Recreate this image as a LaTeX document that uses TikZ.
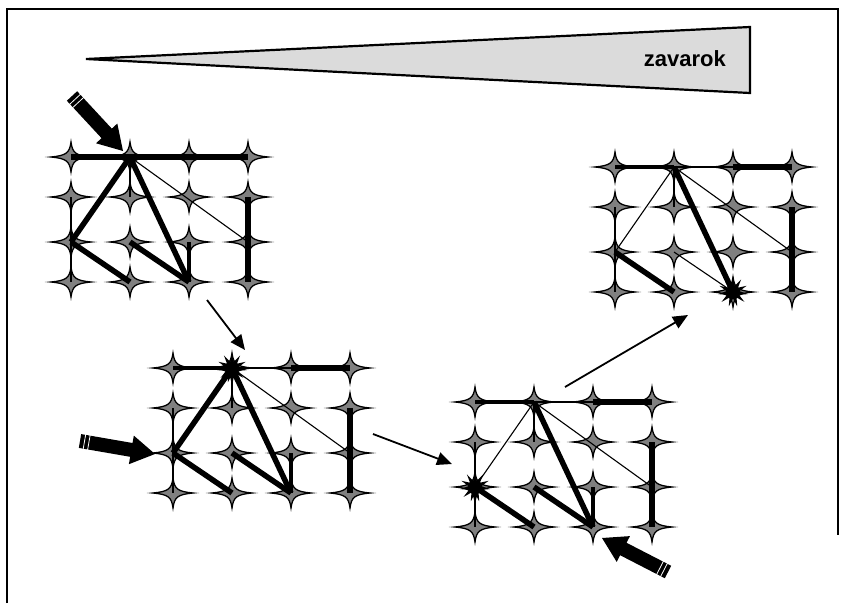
\documentclass[tikz,border=0pt]{standalone}
\usepackage{fontspec}
\setmainfont{Liberation Sans}
\usetikzlibrary{calc,arrows.meta,shapes.geometric}

\definecolor{stargray}{gray}{0.5}
\definecolor{wedgegray}{gray}{0.86}

\tikzset{
  fourstar/.pic={
    \filldraw[fill=stargray, draw=black, line width=1.3pt]
      (20,0) .. controls (4.6,1.5) and (1.5,4) .. (0,15)
             .. controls (-1.5,4) and (-4.6,1.5) .. (-20,0)
             .. controls (-4.6,-1.5) and (-1.5,-4) .. (0,-15)
             .. controls (1.5,-4) and (4.6,-1.5) .. cycle;
  }
}

% a 4x4 lattice of stars: prefix, left x, top y
\newcommand{\makegrid}[3]{%
  \foreach \c in {0,1,2,3}{%
    \foreach \r/\dy in {0/0,1/40,2/85,3/125}{%
      \coordinate (#1-\c-\r) at ({#2+59*\c},{#3+\dy});
      \pic at (#1-\c-\r) {fourstar};
    }%
  }%
}

% links shared by every lattice
\newcommand{\commonedges}[1]{%
  \draw[thinedge] (#1-1-0) -- (#1-1-1);
  \draw[thinedge] (#1-1-0) -- (#1-3-2);
  \draw[thinedge] (#1-0-1) -- (#1-0-2);
  \draw[thinedge] (#1-0-2) -- (#1-0-3);
  \draw[boldedge] (#1-3-1) -- (#1-3-3);
  \draw[boldedge] (#1-0-2) -- (#1-1-3);
  \draw[boldedge] (#1-1-0) -- (#1-2-3);
}

% striped block arrow: tail, tip
\newcommand{\blockarrow}[2]{%
  \coordinate (#1-base) at ($(#2)!24pt!(#1)$);
  \coordinate (#1-s1) at ($(#1)!4.5pt!(#2)$);
  \coordinate (#1-s2) at ($(#1)!9pt!(#2)$);
  \fill ($(#1)!7pt!90:(#2)$) -- ($(#1-base)!7pt!-90:(#1)$)
     -- ($(#1-base)!14.5pt!-90:(#1)$) -- (#2)
     -- ($(#1-base)!14.5pt!90:(#1)$) -- ($(#1-base)!7pt!90:(#1)$)
     -- ($(#1)!7pt!-90:(#2)$) -- cycle;
  \draw[white, line width=0.8pt] ($(#1-s1)!8pt!90:(#2)$) -- ($(#1-s1)!8pt!-90:(#2)$);
  \draw[white, line width=0.8pt] ($(#1-s2)!8pt!90:(#2)$) -- ($(#1-s2)!8pt!-90:(#2)$);
}

\begin{document}
\begin{tikzpicture}[x=1pt,y=-1pt,
  frame/.style={line width=2pt},
  wedge/.style={draw, line width=2.2pt, fill=wedgegray, line join=miter},
  thinedge/.style={line width=1.1pt},
  midedge/.style={line width=3.5pt},
  boldedge/.style={line width=5.5pt},
  flowarrow/.style={line width=1.8pt, -{Triangle[length=15pt,width=13pt]}},
  burst/.style={star, star points=11, star point ratio=2.3, minimum size=30pt, inner sep=0pt, fill=black},
  wedgelabel/.style={font=\bfseries\fontsize{22}{26}\selectfont, anchor=base east, inner sep=0pt}
]
\useasboundingbox (0,0) rectangle (844,603);

% frame
\draw[frame] (7,603) -- (7,9) -- (838,9) -- (838,535);

% wedge with label
\draw[wedge] (86,59) -- (750,27) -- (750,93) -- cycle;
\node[wedgelabel] (lbl) at (726,66) {zavarok};

% lattices
\makegrid{A}{71}{157}
\makegrid{B}{173}{368}
\makegrid{C}{475}{402}
\makegrid{D}{615}{167}

% lattice A
\commonedges{A}
\draw[boldedge] (A-0-0) -- (A-3-0);
\draw[boldedge] (A-1-0) -- (A-0-2);
\draw[boldedge] (A-2-3) -- (A-1-2);
\draw[midedge] (A-2-2) -- (A-2-3);

% lattice B
\commonedges{B}
\draw[midedge] (B-0-0) -- (B-1-0);
\draw[thinedge] (B-1-0) -- (B-2-0);
\draw[boldedge] (B-2-0) -- (B-3-0);
\draw[boldedge] (B-1-0) -- (B-0-2);
\draw[boldedge] (B-2-3) -- (B-1-2);
\draw[midedge] (B-2-2) -- (B-2-3);
\node[burst] (Bx) at (B-1-0) {};

% lattice C
\commonedges{C}
\draw[midedge] (C-0-0) -- (C-1-0);
\draw[thinedge] (C-1-0) -- (C-2-0);
\draw[boldedge] (C-2-0) -- (C-3-0);
\draw[thinedge] (C-1-0) -- (C-0-2);
\draw[boldedge] (C-2-3) -- (C-1-2);
\draw[midedge] (C-2-2) -- (C-2-3);
\node[burst] (Cx) at (C-0-2) {};

% lattice D
\commonedges{D}
\draw[midedge] (D-0-0) -- (D-1-0);
\draw[thinedge] (D-1-0) -- (D-2-0);
\draw[boldedge] (D-2-0) -- (D-3-0);
\draw[thinedge] (D-1-0) -- (D-0-2);
\draw[thinedge] (D-2-3) -- (D-1-2);
\node[burst] (Dx) at (D-2-3) {};

% transitions between lattices
\coordinate (f1s) at (207,300); \coordinate (f1e) at (245,350);
\coordinate (f2s) at (373,434); \coordinate (f2e) at (452,464);
\coordinate (f3s) at (565,387); \coordinate (f3e) at (688,315);
\draw[flowarrow] (f1s) -- (f1e);
\draw[flowarrow] (f2s) -- (f2e);
\draw[flowarrow] (f3s) -- (f3e);

% entry arrows
\coordinate (ina) at (72,96);   \coordinate (inatip) at (123,151);
\coordinate (inb) at (80,441);  \coordinate (inbtip) at (155,454);
\coordinate (inc) at (668,572); \coordinate (inctip) at (602,538);
\blockarrow{ina}{inatip}
\blockarrow{inb}{inbtip}
\blockarrow{inc}{inctip}
\end{tikzpicture}
\end{document}
